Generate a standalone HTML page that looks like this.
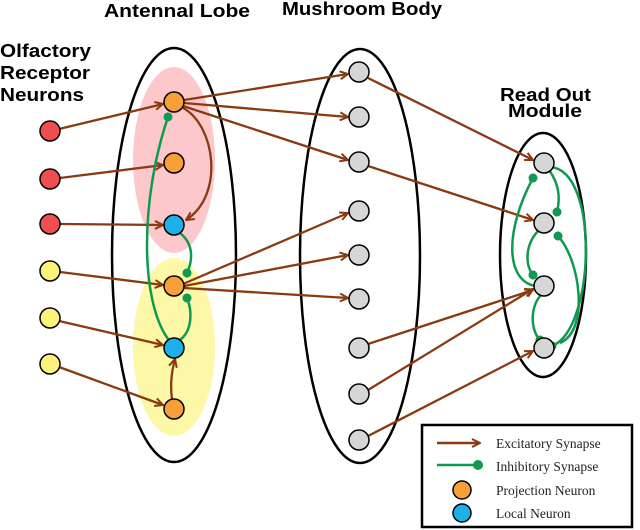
<!DOCTYPE html><html><head><style>body{margin:0;background:#fff}svg{display:block}</style></head><body>
<svg width="640" height="530" viewBox="0 0 640 530" xmlns="http://www.w3.org/2000/svg">
<defs>
<marker id="a" markerWidth="10" markerHeight="10" refX="9" refY="5" orient="auto" markerUnits="userSpaceOnUse"><path d="M1,1 L9,5 L1,9" fill="none" stroke="#8a3a10" stroke-width="2"/></marker>
<marker id="d" markerWidth="10" markerHeight="10" refX="5" refY="5" orient="auto" markerUnits="userSpaceOnUse"><circle cx="5" cy="5" r="4.5" fill="#0f9a50"/></marker>
</defs>
<g font-family="Liberation Sans, sans-serif" font-weight="bold" font-size="18" fill="#000" lengthAdjust="spacingAndGlyphs">
<text x="177" y="17" text-anchor="middle" textLength="146" lengthAdjust="spacingAndGlyphs">Antennal Lobe</text>
<text x="362" y="15" text-anchor="middle" textLength="160" lengthAdjust="spacingAndGlyphs">Mushroom Body</text>
<text x="0" y="57" textLength="91" lengthAdjust="spacingAndGlyphs">Olfactory</text>
<text x="0" y="79" textLength="90" lengthAdjust="spacingAndGlyphs">Receptor</text>
<text x="0" y="101" textLength="84" lengthAdjust="spacingAndGlyphs">Neurons</text>
<text x="500" y="101" textLength="91" lengthAdjust="spacingAndGlyphs">Read Out</text>
<text x="508" y="117" textLength="74" lengthAdjust="spacingAndGlyphs">Module</text>
</g>
<ellipse cx="174" cy="160" rx="41" ry="93" fill="#fcc8cc"/>
<ellipse cx="174" cy="347" rx="41" ry="89" fill="#fdf7a8"/>
<g fill="none" stroke="#000" stroke-width="2.5">
<ellipse cx="174" cy="255" rx="62" ry="207"/>
<ellipse cx="360" cy="256" rx="60" ry="207"/>
<ellipse cx="543" cy="255" rx="43" ry="122"/>
</g>
<g fill="none" stroke="#8a3a10" stroke-width="2.3" marker-end="url(#a)">
<line x1="59" y1="129" x2="163" y2="104"/>
<line x1="60" y1="178" x2="163" y2="165"/>
<line x1="60" y1="224" x2="163" y2="225"/>
<line x1="60" y1="272" x2="163" y2="285"/>
<line x1="59" y1="321" x2="163" y2="345"/>
<line x1="59" y1="367" x2="163" y2="405"/>
<line x1="184" y1="100" x2="348" y2="74"/>
<line x1="184" y1="103" x2="348" y2="117"/>
<line x1="183" y1="106" x2="348" y2="160"/>
<path d="M183,108 C215,125 225,195 186,220"/>
<line x1="183" y1="284" x2="348" y2="213"/>
<line x1="184" y1="286" x2="348" y2="255"/>
<line x1="184" y1="288" x2="348" y2="298"/>
<path d="M172,399 C170,385 172,370 175,359"/>
<line x1="368" y1="78" x2="533" y2="160"/>
<line x1="368" y1="166" x2="533" y2="220"/>
<line x1="368" y1="344" x2="533" y2="290"/>
<line x1="368" y1="390" x2="533" y2="289"/>
<line x1="368" y1="436" x2="533" y2="351"/>
</g>
<g fill="none" stroke="#0f9a50" stroke-width="2.5" marker-end="url(#d)">
<path d="M168,339 C140,300 140,200 168,117"/>
<path d="M180,233 C195,245 192,262 187,273"/>
<path d="M180,340 C193,330 192,310 187,298"/>
<path d="M535,286 C505,280 505,230 533,178"/>
<path d="M549,170 C560,185 560,200 557,212"/>
<path d="M538,231 C525,245 525,265 533,275"/>
<path d="M542,294 C530,305 530,330 540,340"/>
<path d="M550,167 C600,170 595,330 552,346"/>
<path d="M560,343 C590,330 580,260 558,236"/>
</g>
<g stroke="#000" stroke-width="1.5">
<g fill="#f04e50"><circle cx="50" cy="131" r="10"/><circle cx="50" cy="179" r="10"/><circle cx="50" cy="224" r="10"/></g>
<g fill="#fdf37a"><circle cx="50" cy="271" r="10"/><circle cx="50" cy="318" r="10"/><circle cx="50" cy="364" r="10"/></g>
<g fill="#f7a03a"><circle cx="174" cy="102" r="10"/><circle cx="174" cy="163" r="10"/><circle cx="174" cy="286" r="10"/><circle cx="174" cy="409" r="10"/></g>
<g fill="#1eb0e8"><circle cx="174" cy="225" r="10"/><circle cx="174" cy="348" r="10"/></g>
<g fill="#d6d6d6"><circle cx="359" cy="72" r="10"/><circle cx="359" cy="117" r="10"/><circle cx="359" cy="162" r="10"/><circle cx="359" cy="211" r="10"/><circle cx="359" cy="255" r="10"/><circle cx="359" cy="299" r="10"/><circle cx="359" cy="348" r="10"/><circle cx="359" cy="394" r="10"/><circle cx="359" cy="440" r="10"/>
<circle cx="544" cy="163" r="10"/><circle cx="544" cy="223" r="10"/><circle cx="544" cy="286" r="10"/><circle cx="544" cy="348" r="10"/></g>
</g>
<rect x="422" y="425" width="210" height="102" fill="#fff" stroke="#000" stroke-width="2.5"/>
<line x1="437" y1="443" x2="480" y2="443" stroke="#8a3a10" stroke-width="2.5" marker-end="url(#a)"/>
<line x1="437" y1="465" x2="476" y2="465" stroke="#0f9a50" stroke-width="2.5"/><circle cx="478" cy="465" r="5" fill="#0f9a50"/>
<circle cx="462" cy="490" r="9" fill="#f7a03a" stroke="#000" stroke-width="1.5"/>
<circle cx="462" cy="513" r="9" fill="#1eb0e8" stroke="#000" stroke-width="1.5"/>
<g font-family="Liberation Serif, serif" font-size="13.5" fill="#222">
<text x="496" y="448">Excitatory Synapse</text>
<text x="496" y="471">Inhibitory Synapse</text>
<text x="496" y="495">Projection Neuron</text>
<text x="496" y="518">Local Neuron</text>
</g>
</svg>
</body></html>
